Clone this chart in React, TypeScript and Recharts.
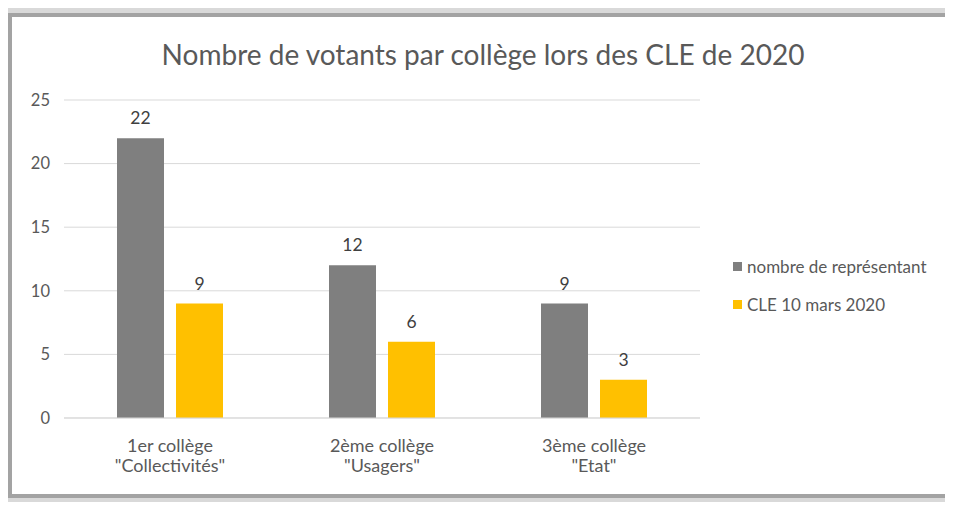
import { Bar, BarChart, CartesianGrid, LabelList, Legend, XAxis, YAxis } from 'recharts';

const FONT = 'Lato, "Open Sans", sans-serif';

const colleges = ['1er collège', '2ème collège', '3ème collège'];
const groups = ['"Collectivités"', '"Usagers"', '"Etat"'];
const representants = [22, 12, 9];
const votants = [9, 6, 3];
const yTicks = [0, 5, 10, 15, 20, 25];

const data = colleges.map((c, i) => ({
  name: c,
  sub: groups[i],
  representants: representants[i],
  votants: votants[i],
}));

const COLORS = { representants: '#7f7f7f', votants: '#ffc000' };

const CategoryTick = (props: any) => {
  const { x, y, payload, index } = props;
  return (
    <text x={x} y={y} textAnchor="middle" fill="#595959" fontSize={18} fontFamily={FONT}>
      <tspan x={x} dy={34}>{payload.value}</tspan>
      <tspan x={x} dy={20}>{groups[index]}</tspan>
    </text>
  );
};

const renderLegend = () => (
  <div style={{ fontFamily: FONT, fontSize: 17, color: '#595959' }}>
    {[
      { label: 'nombre de représentant', color: COLORS.representants },
      { label: 'CLE 10 mars 2020', color: COLORS.votants },
    ].map((item) => (
      <div key={item.label} style={{ display: 'flex', alignItems: 'center', height: 38 }}>
        <span style={{ width: 9, height: 9, background: item.color, marginRight: 5, display: 'inline-block' }} />
        <span>{item.label}</span>
      </div>
    ))}
  </div>
);

export default function App() {
  return (
    <div style={{ position: 'relative', width: 953, height: 510, margin: -8, background: '#d9d9d9', overflow: 'hidden' }}>
      <div
        style={{
          position: 'absolute',
          left: 8,
          top: 13,
          width: 942,
          height: 485,
          background: '#a3a3a3',
        }}
      />
      <div
        style={{
          position: 'absolute',
          left: 12,
          top: 17,
          width: 938,
          height: 477,
          background: '#ffffff',
        }}
      >
        <div
          style={{
            position: 'absolute',
            left: 0,
            top: 20,
            width: 942,
            textAlign: 'center',
            fontFamily: FONT,
            fontSize: 28,
            color: '#595959',
            whiteSpace: 'nowrap',
          }}
        >
          Nombre de votants par collège lors des CLE de 2020
        </div>
        <BarChart
          width={938}
          height={477}
          data={data}
          margin={{ top: 83, right: 50, bottom: 0, left: 2 }}
          barCategoryGap="25%"
          barGap={12}
        >
          <CartesianGrid vertical={false} stroke="#d9d9d9" />
          <XAxis
            dataKey="name"
            height={76}
            axisLine={{ stroke: '#d9d9d9' }}
            tickLine={false}
            tickSize={0}
            tickMargin={0}
            tick={<CategoryTick />}
            interval={0}
          />
          <YAxis
            width={50}
            domain={[0, 25]}
            ticks={yTicks}
            axisLine={false}
            tickLine={false}
            tickSize={0}
            tickMargin={14}
            tick={{ fill: '#595959', fontSize: 16.5, fontFamily: FONT }}
          />
          <Legend
            layout="vertical"
            align="right"
            verticalAlign="middle"
            content={renderLegend}
            wrapperStyle={{ position: 'absolute', left: 721, top: 230, width: 200 }}
          />
          <Bar dataKey="representants" fill={COLORS.representants} isAnimationActive={false}>
            <LabelList dataKey="representants" position="top" offset={14} fill="#404040" fontSize={17.5} fontFamily={FONT} />
          </Bar>
          <Bar dataKey="votants" fill={COLORS.votants} isAnimationActive={false}>
            <LabelList dataKey="votants" position="top" offset={14} fill="#404040" fontSize={17.5} fontFamily={FONT} />
          </Bar>
        </BarChart>
      </div>
    </div>
  );
}
